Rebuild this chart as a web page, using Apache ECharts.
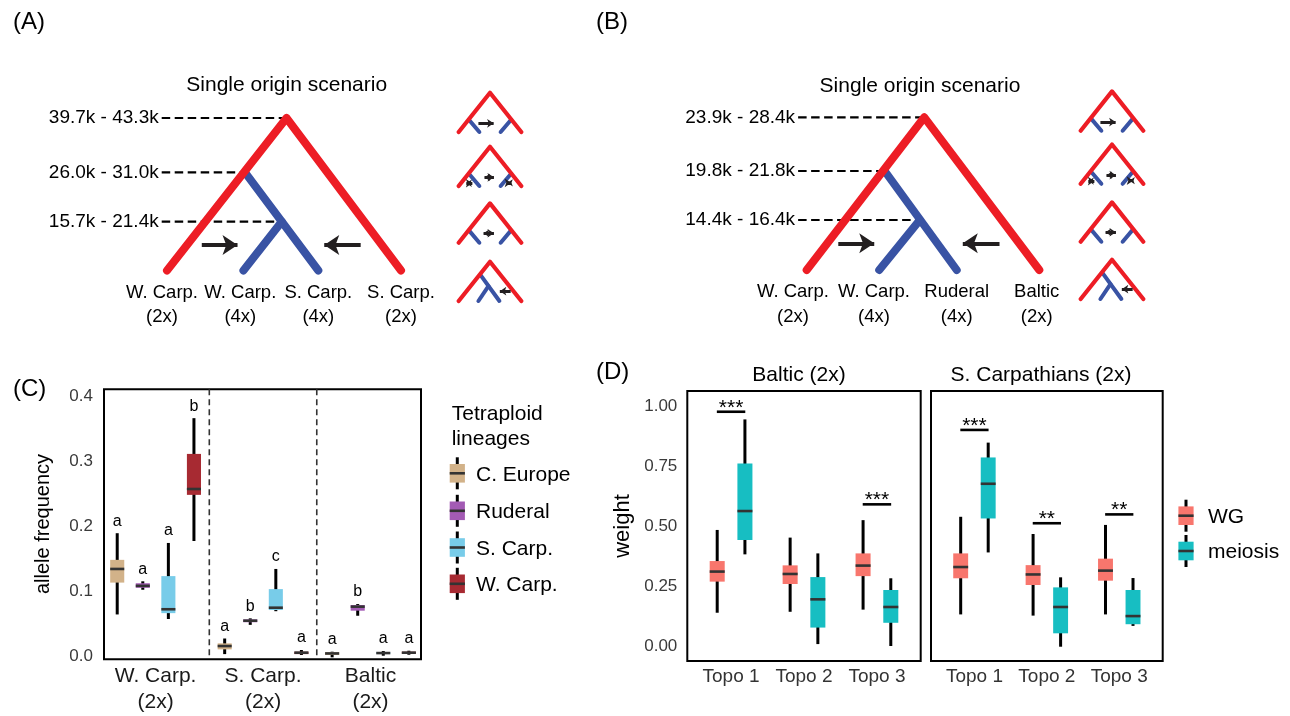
<!DOCTYPE html>
<html><head><meta charset="utf-8">
<script src="https://cdn.jsdelivr.net/npm/echarts@6/dist/echarts.min.js"></script>
<style>html,body{margin:0;padding:0;background:#fff;}#chart{width:1290px;height:716px;}</style>
</head><body><div id="chart"></div>
<script>
// ---------------- DATA ----------------
// Panel A tree (schematic units: x along leaves, y = node height)
const treeALeaves = ['W. Carp.\n(2x)', 'W. Carp.\n(4x)', 'S. Carp.\n(4x)', 'S. Carp.\n(2x)'];
const treeALeafX = [-0.064, 0.94, 1.94, 3.0];
const treeARed = [[0, 0], [1.532, 3], [3, 0]];
const treeABlue = [[[1.0, 1.93], [1.94, 0]], [[1.47, 0.96], [0.98, 0]]];
const treeADates = ['39.7k - 43.3k', '26.0k - 31.0k', '15.7k - 21.4k'];
const treeADateH = [3, 1.93, 0.96];
const treeADateNodeX = [1.532, 1.03, 1.42];
const treeAArrows = [[[0.446, 0.5], [1.0, 0.5]], [[2.483, 0.5], [1.92, 0.5]]];

// Panel B tree
const treeBLeaves = ['W. Carp.\n(2x)', 'W. Carp.\n(4x)', 'Ruderal\n(4x)', 'Baltic\n(2x)'];
const treeBLeafX = [-0.176, 0.863, 1.923, 2.949];
const treeBRed = [[0, 0], [1.508, 3], [2.982, 0]];
const treeBBlue = [[[1.0, 1.945], [1.923, 0]], [[1.45, 0.982], [0.93, 0]]];
const treeBDates = ['23.9k - 28.4k', '19.8k - 21.8k', '14.4k - 16.4k'];
const treeBDateH = [3, 1.945, 0.982];
const treeBDateNodeX = [1.508, 1.02, 1.43];
const treeBArrows = [[[0.405, 0.525], [0.962, 0.525]], [[2.472, 0.525], [1.905, 0.525]]];

// Mini topologies (unit triangle: apex (0,1), leaves (-1,0),(1,0))
const miniRed = [[-1, 0], [0, 1], [1, 0]];
const miniBlue = [
  [[[-0.66, 0.3], [-0.34, 0]], [[0.66, 0.3], [0.34, 0]]],
  [[[-0.66, 0.3], [-0.34, 0]], [[0.66, 0.3], [0.34, 0]]],
  [[[-0.66, 0.3], [-0.34, 0]], [[0.66, 0.3], [0.34, 0]]],
  [[[-0.3, 0.66], [0.3, 0]], [[-0.05, 0.38], [-0.37, 0]]]
];
const miniArrows = [
  [{ from: [-0.37, 0.22], to: [0.22, 0.22], both: false }],
  [{ from: [-0.86, 0.07], to: [-0.46, 0.07], both: true }, { from: [-0.28, 0.22], to: [0.23, 0.22], both: true }, { from: [0.45, 0.08], to: [0.78, 0.08], both: true }],
  [{ from: [-0.31, 0.24], to: [0.23, 0.24], both: true }],
  [{ from: [0.66, 0.25], to: [0.21, 0.25], both: false }]
];

// Panel C: allele frequency boxplots  [low, q1, median, q3, high] per group
const groupsC = ['W. Carp.\n(2x)', 'S. Carp.\n(2x)', 'Baltic\n(2x)'];
const lineages = ['C. Europe', 'Ruderal', 'S. Carp.', 'W. Carp.'];
const cEurope = [[0.065, 0.114, 0.135, 0.149, 0.190], [0.004, 0.0113, 0.0164, 0.0205, 0.028], [-0.001, 0.0026, 0.005, 0.007, 0.0077]];
const ruderal = [[0.103, 0.106, 0.109, 0.113, 0.116], [0.049, 0.053, 0.0554, 0.0574, 0.059], [0.063, 0.0708, 0.077, 0.0795, 0.081]];
const sCarp = [[0.058, 0.067, 0.073, 0.124, 0.175], [0.070, 0.0718, 0.0754, 0.104, 0.135], [0.0015, 0.0046, 0.0056, 0.0067, 0.0087]];
const wCarp = [[0.178, 0.249, 0.258, 0.312, 0.367], [0.0026, 0.004, 0.0062, 0.0077, 0.0103], [0.003, 0.0046, 0.0062, 0.0077, 0.0092]];
const lettersCEurope = ['a', 'a', 'a'];
const lettersRuderal = ['a', 'b', 'b'];
const lettersSCarp = ['a', 'c', 'a'];
const lettersWCarp = ['b', 'a', 'a'];
const ticksC = [0, 0.1, 0.2, 0.3, 0.4];

// Panel D: topology weights
const topoCats = ['Topo 1', 'Topo 2', 'Topo 3'];
const facets = ['Baltic (2x)', 'S. Carpathians (2x)'];
const balticWG = [[0.139, 0.269, 0.311, 0.355, 0.485], [0.143, 0.259, 0.301, 0.337, 0.453], [0.152, 0.292, 0.336, 0.387, 0.526]];
const balticMeiosis = [[0.383, 0.443, 0.564, 0.763, 0.947], [0.008, 0.077, 0.195, 0.288, 0.387], [0.0, 0.097, 0.163, 0.234, 0.283]];
const scarpWG = [[0.132, 0.283, 0.330, 0.387, 0.540], [0.127, 0.255, 0.299, 0.338, 0.468], [0.132, 0.273, 0.315, 0.365, 0.506]];
const scarpMeiosis = [[0.391, 0.533, 0.678, 0.788, 0.850], [-0.003, 0.053, 0.163, 0.245, 0.287], [0.084, 0.091, 0.125, 0.234, 0.284]];
const sigBalticTopo = [1, 3], sigBalticY = [0.979, 0.592], sigBalticText = ['***', '***'];
const sigSCarpTopo = [1, 2, 3], sigSCarpY = [0.903, 0.513, 0.550], sigSCarpText = ['***', '**', '**'];
const ticksD = [0, 0.25, 0.5, 0.75, 1.0];

// ---------------- STYLE / LAYOUT ----------------
const FONT = "'Liberation Sans', Arial, sans-serif";
const RED = '#ED1D25', BLUE = '#3953A4', INK = '#231F20';
const colorsC = ['#D2B289', '#A35BB4', '#78CCE9', '#A72A32'];
const colorWG = '#F8766D', colorMei = '#17BEC2';

const grid = [], xAxis = [], yAxis = [], series = [];
function addGrid(g, xa, ya) {
  const i = grid.length;
  grid.push(Object.assign({ outerBoundsMode: 'none', containLabel: false }, g));
  xAxis.push(Object.assign({ gridIndex: i, type: 'value' }, xa));
  yAxis.push(Object.assign({ gridIndex: i, type: 'value' }, ya));
  return i;
}
const hid = (min, max) => ({ show: false, min, max, splitLine: { show: false } });

function lineS(gi, pts, color, w, z, dash) {
  return { type: 'line', xAxisIndex: gi, yAxisIndex: gi, data: pts, symbol: 'none', showSymbol: false, clip: false, silent: true, z,
    lineStyle: { color, width: w, cap: dash ? 'butt' : 'round', join: 'round', type: dash || 'solid' }, animation: false };
}
function arrowS(gi, from, to, both, headW, headL, lw, pxUnit) {
  const dir = Math.sign(to[0] - from[0]);
  const s = headL / 2 / pxUnit;
  const f = both ? [from[0] + dir * s, from[1]] : from;
  const t = [to[0] - dir * s, to[1]];
  return { type: 'lines', coordinateSystem: 'cartesian2d', xAxisIndex: gi, yAxisIndex: gi, clip: false, silent: true, z: 6,
    symbol: both ? ['arrow', 'arrow'] : ['none', 'arrow'], symbolSize: [headW, headL],
    lineStyle: { color: INK, width: lw, opacity: 1, curveness: 0 }, data: [{ coords: [f, t] }], animation: false };
}
function textScatter(gi, pts, names, pos, dist, fs, lh, align) {
  return { type: 'scatter', xAxisIndex: gi, yAxisIndex: gi, symbolSize: 0, silent: true, clip: false, z: 7,
    itemStyle: { color: '#000', opacity: 1 },
    data: pts.map((p, i) => ({ value: p, name: names[i] })),
    label: { show: true, position: pos, distance: dist, formatter: '{b}', fontSize: fs, lineHeight: lh, fontFamily: FONT, color: '#000', opacity: 1, align: align || 'center' },
    animation: false };
}

function addMainTree(g, red, blues, dates, dateH, dateNodeX, dashX, arrows, leaves, leafX) {
  const gi = addGrid(g, hid(-1, 3.5), hid(0, 3));
  dates.forEach((d, i) => series.push(lineS(gi, [[dashX, dateH[i]], [dateNodeX[i], dateH[i]]], '#000', 2.2, 2, [8.5, 4.5])));
  blues.forEach(b => series.push(lineS(gi, b, BLUE, 8, 3)));
  series.push(lineS(gi, red, RED, 8, 4));
  arrows.forEach(a => series.push(arrowS(gi, a[0], a[1], false, 11, 15, 4, 78)));
  series.push(textScatter(gi, dateH.map(h => [dashX, h]), dates, 'left', 3, 19, 22, 'right'));
  series.push(textScatter(gi, leafX.map(x => [x, 0]), leaves, 'bottom', 10, 18.5, 24.5));
}
addMainTree({ left: 89, top: 118, width: 351, height: 152.5 }, treeARed, treeABlue, treeADates, treeADateH, treeADateNodeX, -0.068, treeAArrows, treeALeaves, treeALeafX);
addMainTree({ left: 728.7, top: 117.3, width: 351, height: 152.7 }, treeBRed, treeBBlue, treeBDates, treeBDateH, treeBDateNodeX, -0.11, treeBArrows, treeBLeaves, treeBLeafX);

function addMini(apexX, top, k) {
  const gi = addGrid({ left: apexX - 31.3, top, width: 62.6, height: 39.3 }, hid(-1, 1), hid(0, 1));
  miniBlue[k].forEach(b => series.push(lineS(gi, b, BLUE, 4, 3)));
  series.push(lineS(gi, miniRed, RED, 4.2, 4));
  miniArrows[k].forEach(a => series.push(arrowS(gi, a.from, a.to, a.both, 5.5, 6.5, 3, 31.3)));
}
[92.7, 146.7, 203.4, 261.7].forEach((t, k) => addMini(490, t, k));
[91.4, 144.5, 202.4, 259.7].forEach((t, k) => addMini(1112, t, k));

// ---- Panel C ----
const ci = addGrid({ left: 104, top: 389.3, width: 317, height: 270, show: true, borderColor: '#000', borderWidth: 2, backgroundColor: 'rgba(0,0,0,0)' },
  { min: 0.52, max: 3.47, splitLine: { show: false }, axisLine: { show: false }, axisTick: { show: false },
    axisLabel: { customValues: [1, 2, 3], formatter: v => groupsC[Math.round(v) - 1], fontSize: 21, lineHeight: 26, margin: 4, fontFamily: FONT, color: '#1a1a1a' } },
  { min: -0.004, max: 0.4114, splitLine: { show: false }, axisLine: { show: false }, axisTick: { show: false },
    axisLabel: { customValues: ticksC, formatter: v => v.toFixed(1), fontSize: 17, margin: 11, fontFamily: FONT, color: '#3a3a3a' } });

function boxRender(color, offset, width, letters) {
  return function (params, api) {
    const x = api.value(0) + offset;
    const y = i => api.coord([x, api.value(i)])[1];
    const cx = api.coord([x, 0])[0];
    const w = api.size([width, 0])[0];
    const lo = y(1), q1 = y(2), md = y(3), q3 = y(4), hi = y(5);
    const ch = [
      { type: 'line', shape: { x1: cx, y1: hi, x2: cx, y2: lo }, style: { stroke: '#000', lineWidth: 3 } },
      { type: 'rect', shape: { x: cx - w / 2, y: q3, width: w, height: Math.max(q1 - q3, 0.8) }, style: { fill: color } },
      { type: 'line', shape: { x1: cx - w / 2, y1: md, x2: cx + w / 2, y2: md }, style: { stroke: '#333', lineWidth: 2.6 } }
    ];
    if (letters) ch.push({ type: 'text', x: cx, y: hi - 12, style: { text: letters[params.dataIndex], align: 'center', verticalAlign: 'middle', fontSize: 16, fontFamily: FONT, fill: '#000' } });
    return { type: 'group', children: ch };
  };
}
// separators between groups
series.push({ type: 'custom', xAxisIndex: ci, yAxisIndex: ci, silent: true, z: 1, data: [[1.5, 0], [2.5, 0]], encode: { x: 0, y: 1 },
  renderItem: (p, api) => { const c = api.coord([api.value(0), 0]); const cs = p.coordSys;
    return { type: 'line', shape: { x1: c[0], y1: cs.y, x2: c[0], y2: cs.y + cs.height }, style: { stroke: '#333', lineWidth: 1.6, lineDash: [6, 4] } }; } });
const dataC = [cEurope, ruderal, sCarp, wCarp];
const lettersC = [lettersCEurope, lettersRuderal, lettersSCarp, lettersWCarp];
const dodgeC = [-0.357, -0.119, 0.119, 0.357];
dataC.forEach((d, k) => series.push({ type: 'custom', name: lineages[k], xAxisIndex: ci, yAxisIndex: ci, silent: true, clip: false, z: 3,
  data: d.map((v, g) => [g + 1].concat(v)), encode: { x: 0, y: [1, 2, 3, 4, 5] }, renderItem: boxRender(colorsC[k], dodgeC[k], 0.131, lettersC[k]) }));

// ---- Panel D ----
function addFacet(left, width, showY, wg, mei, sigTopo, sigY, sigText) {
  const gi = addGrid({ left, top: 391, width, height: 270, show: true, borderColor: '#000', borderWidth: 2, backgroundColor: 'rgba(0,0,0,0)' },
    { min: 0.4, max: 3.6, splitLine: { show: false }, axisLine: { show: false }, axisTick: { show: false },
      axisLabel: { customValues: [1, 2, 3], formatter: v => topoCats[Math.round(v) - 1], fontSize: 19, margin: 6, fontFamily: FONT, color: '#333' } },
    { min: -0.0627, max: 1.0657, splitLine: { show: false }, axisLine: { show: false }, axisTick: { show: false },
      axisLabel: { show: showY, customValues: ticksD, formatter: v => v.toFixed(2), fontSize: 17, margin: 10, fontFamily: FONT, color: '#3a3a3a' } });
  series.push({ type: 'custom', name: 'WG', xAxisIndex: gi, yAxisIndex: gi, silent: true, clip: false, z: 3,
    data: wg.map((v, t) => [t + 1].concat(v)), encode: { x: 0, y: [1, 2, 3, 4, 5] }, renderItem: boxRender(colorWG, -0.19, 0.206, null) });
  series.push({ type: 'custom', name: 'meiosis', xAxisIndex: gi, yAxisIndex: gi, silent: true, clip: false, z: 3,
    data: mei.map((v, t) => [t + 1].concat(v)), encode: { x: 0, y: [1, 2, 3, 4, 5] }, renderItem: boxRender(colorMei, 0.19, 0.206, null) });
  series.push({ type: 'custom', xAxisIndex: gi, yAxisIndex: gi, silent: true, clip: false, z: 4,
    data: sigTopo.map((t, i) => [t, sigY[i]]), encode: { x: 0, y: 1 },
    renderItem: (p, api) => { const a = api.coord([api.value(0) - 0.195, api.value(1)]), b = api.coord([api.value(0) + 0.195, api.value(1)]);
      return { type: 'group', children: [
        { type: 'line', shape: { x1: a[0], y1: a[1], x2: b[0], y2: b[1] }, style: { stroke: '#000', lineWidth: 2.6 } },
        { type: 'text', x: (a[0] + b[0]) / 2, y: a[1] - 3.7, style: { text: sigText[p.dataIndex], align: 'center', verticalAlign: 'middle', fontSize: 21, fontFamily: FONT, fill: '#000' } }] }; } });
}
addFacet(687.3, 233.4, true, balticWG, balticMeiosis, sigBalticTopo, sigBalticY, sigBalticText);
addFacet(931, 231.7, false, scarpWG, scarpMeiosis, sigSCarpTopo, sigSCarpY, sigSCarpText);

// ---------------- GRAPHICS (text, legends) ----------------
const T = (x, y, text, fs, align, extra) => Object.assign({ type: 'text', x, y, silent: true,
  style: { text, fontSize: fs, fontFamily: FONT, fill: '#000', align: align || 'left', verticalAlign: 'middle' } }, extra || {});
function legendKey(cx, cy, color) {
  return [
    { type: 'line', silent: true, shape: { x1: cx, y1: cy - 16, x2: cx, y2: cy + 16 }, style: { stroke: '#000', lineWidth: 3 } },
    { type: 'rect', silent: true, shape: { x: cx - 7.6, y: cy - 9.3, width: 15.2, height: 18.6 }, style: { fill: color } },
    { type: 'line', silent: true, shape: { x1: cx - 7.6, y1: cy, x2: cx + 7.6, y2: cy }, style: { stroke: '#333', lineWidth: 2.6 } }
  ];
}
const graphics = [
  T(13, 22, '(A)', 24), T(596, 22, '(B)', 24), T(13, 389, '(C)', 24), T(596, 372, '(D)', 24),
  T(286.7, 85, 'Single origin scenario', 21, 'center'),
  T(920, 86.7, 'Single origin scenario', 21, 'center'),
  T(43, 524, 'allele frequency', 20, 'center', { rotation: Math.PI / 2 }),
  T(623, 526, 'weight', 22, 'center', { rotation: Math.PI / 2 }),
  T(799, 375, facets[0], 21, 'center'),
  T(1041, 375, facets[1], 21, 'center'),
  T(451.7, 414, 'Tetraploid', 21), T(451.7, 439, 'lineages', 21)
];
[473.3, 510.8, 547.5, 583.8].forEach((cy, k) => { graphics.push(...legendKey(457.3, cy, colorsC[k])); graphics.push(T(476, cy + 1.5, lineages[k], 21)); });
graphics.push(...legendKey(1186, 515.7, colorWG), T(1208, 517, 'WG', 21));
graphics.push(...legendKey(1186, 551, colorMei), T(1208, 552, 'meiosis', 21));

const chart = echarts.init(document.getElementById('chart'), null, { renderer: 'canvas' });
chart.setOption({ animation: false, backgroundColor: '#fff', textStyle: { fontFamily: FONT }, grid, xAxis, yAxis, series, graphic: graphics });
</script></body></html>
